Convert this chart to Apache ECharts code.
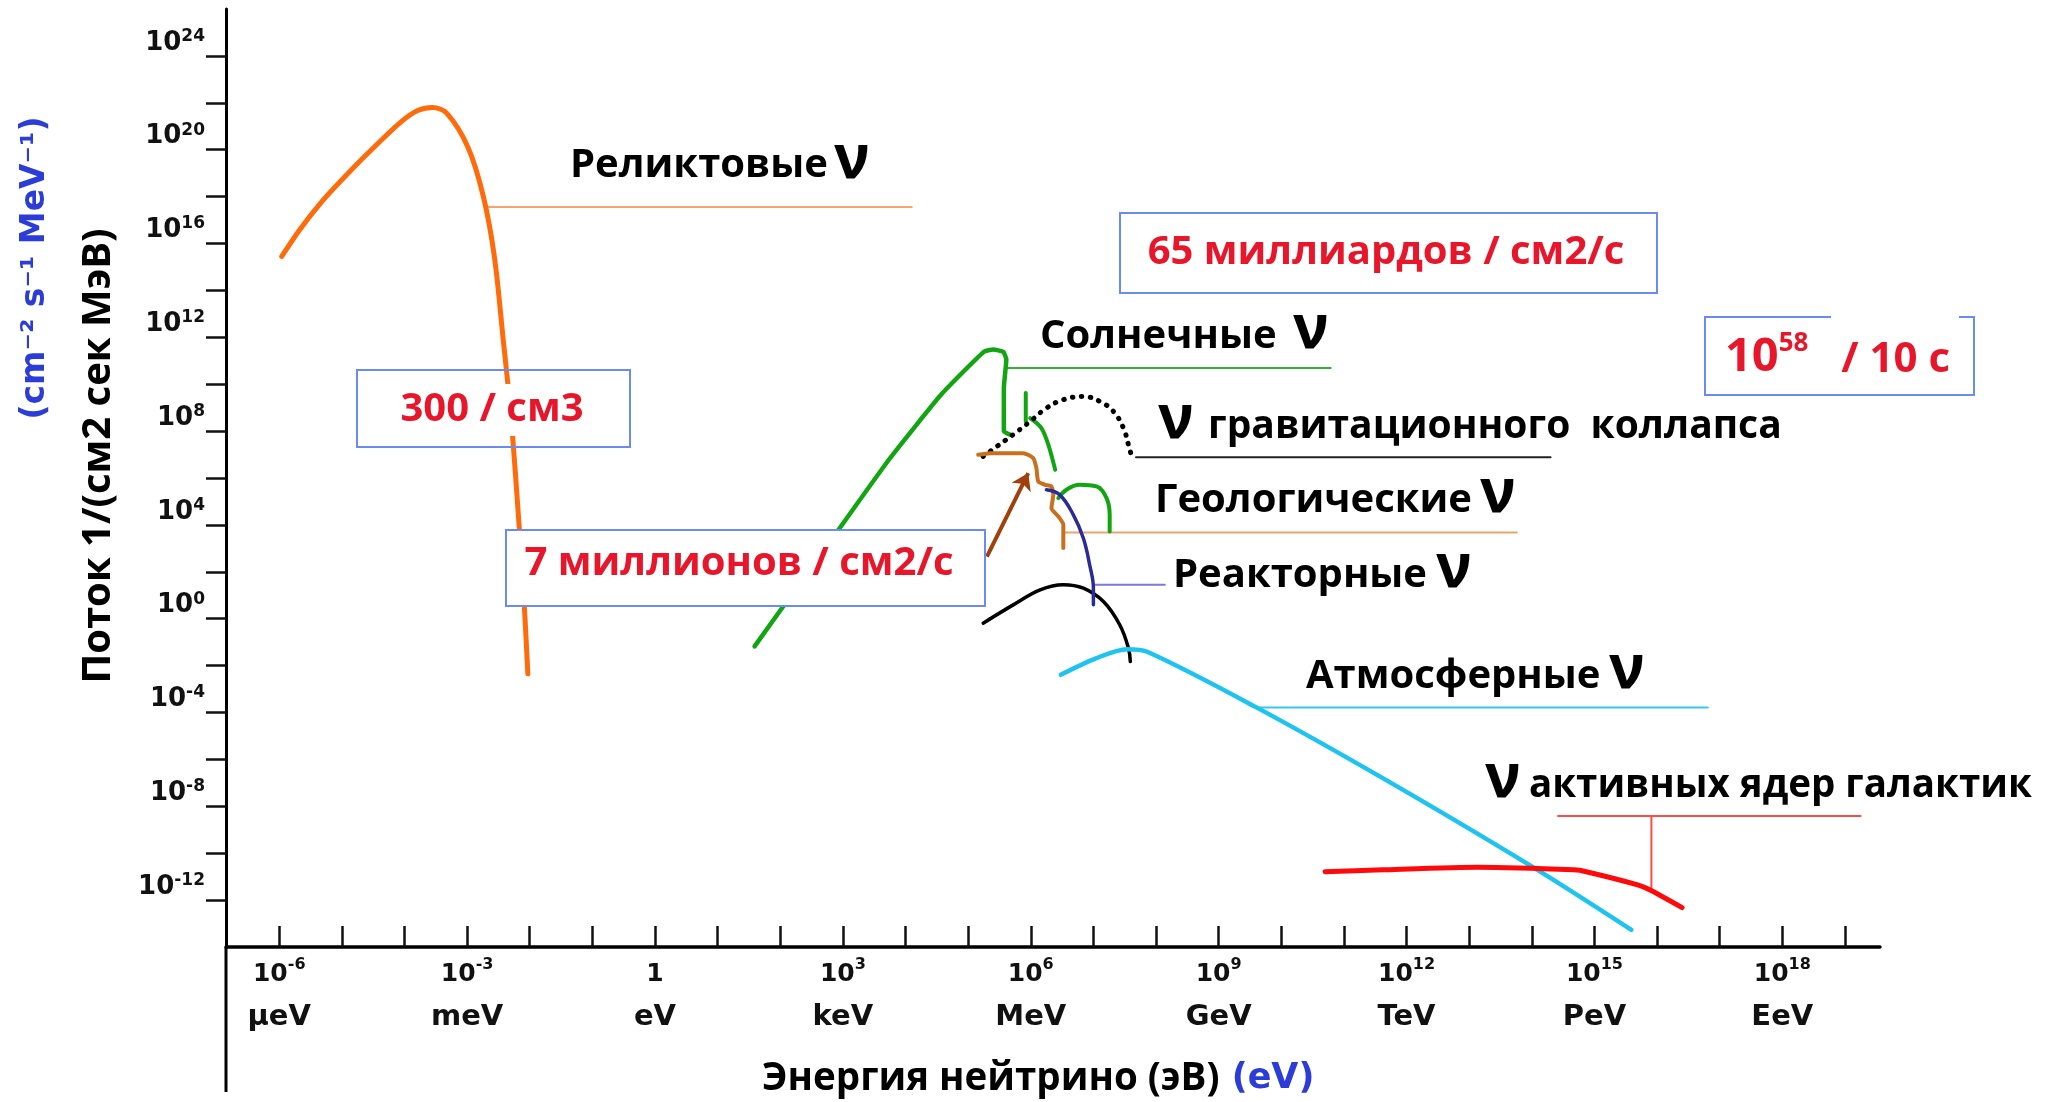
<!DOCTYPE html>
<html><head><meta charset="utf-8">
<script src="https://cdn.jsdelivr.net/npm/echarts@6/dist/echarts.min.js"></script>
<style>html,body{margin:0;padding:0;background:#fff}#c{width:2051px;height:1102px}</style>
</head><body><div id="c"></div>
<script>
// ---- axis ticks / labels (powers of ten) ----
const xTickExps = [-6,-5,-4,-3,-2,-1,0,1,2,3,4,5,6,7,8,9,10,11,12,13,14,15,16,17,18,19];
const xLabelExps = [-6,-3,0,3,6,9,12,15,18];
const xUnitNames = ['μeV','meV','eV','keV','MeV','GeV','TeV','PeV','EeV'];
const yTickExps = [-12,-10,-8,-6,-4,-2,0,2,4,6,8,10,12,14,16,18,20,22,24];
const yLabelExps = [-12,-8,-4,0,4,8,12,16,20,24];

// ---- curves: [log10(E/eV), log10(flux)] ----
const relicFlux = [[-5.96,15.45],[-5.67,16.6],[-5.30,17.85],[-4.90,19.0],[-4.45,20.2],[-4.05,21.2],[-3.78,21.68],[-3.55,21.8],[-3.33,21.57],[-2.99,20.13],[-2.74,18.00],[-2.56,15.35],[-2.42,11.80],[-2.35,10.03],[-2.27,7.65],[-2.19,4.73],[-2.10,1.19],[-2.03,-2.35]];
const solarMain = [[1.59,-1.18],[2.28,1.39],[2.91,3.72],[3.74,6.80],[4.58,9.59],[5.25,11.38],[5.40,11.48],[5.56,11.38],[5.61,11.05],[5.57,9.83],[5.57,7.99],[5.67,7.85]];
const solarSpike = [[5.92,9.62],[5.92,8.41]];
const solarDescent = [[5.99,8.55],[6.17,8.13],[6.28,7.42],[6.39,6.35]];
const solarBump = [[6.44,5.14],[6.57,5.50],[6.78,5.71],[7.05,5.64],[7.21,5.14],[7.26,4.43],[7.26,3.72]];
const collapseFlux = [[5.24,6.92],[5.46,7.35],[5.72,7.85],[5.99,8.41],[6.25,8.98],[6.52,9.34],[6.84,9.48],[7.10,9.27],[7.32,8.84],[7.48,8.13],[7.56,7.42],[7.61,6.92]];
const geoFlux = [[5.16,6.99],[5.35,7.06],[5.88,7.06],[6.04,6.85],[6.09,6.42],[6.12,5.85],[6.23,5.71],[6.33,5.64],[6.36,5.29],[6.33,4.71],[6.44,4.36],[6.52,4.01],[6.52,3.01]];
const arrowPath = [[5.30,2.65],[5.96,6.21]];
const reactorFlux = [[6.25,5.50],[6.46,5.29],[6.68,4.43],[6.84,3.43],[6.94,2.30],[7.00,1.30],[7.00,0.59]];
const blackBump = [[5.24,-0.19],[5.72,0.59],[6.15,1.23],[6.52,1.45],[6.84,1.30],[7.16,0.73],[7.42,-0.26],[7.56,-1.26],[7.59,-1.83]];
const atmosFlux = [[6.48,-2.39],[7.04,-1.69],[7.54,-1.30],[7.85,-1.40],[9.58,-3.75],[11.62,-6.80],[13.96,-10.50],[15.59,-13.27]];
const agnFlux = [[10.70,-10.79],[11.62,-10.71],[13.14,-10.60],[14.67,-10.71],[14.87,-10.79],[15.69,-11.35],[15.89,-11.57],[16.40,-12.32]];

// ---- label leader lines ----
const relicLeader = [[-2.70,17.56],[4.10,17.56]];
const solarLeader = [[5.62,10.69],[10.79,10.69]];
const collapseLeader = [[7.68,6.89],[14.30,6.89]];
const geoLeader = [[6.54,3.68],[13.76,3.68]];
const reactorLeader = [[7.03,1.45],[8.14,1.45]];
const atmosLeader = [[9.63,-3.79],[16.81,-3.79]];
const agnLeader = [[14.42,-8.41],[19.25,-8.41]];
const agnLeaderDrop = [[15.91,-8.41],[15.91,-11.50]];

const RED = '#e8162a', BOXC = '#6a8bf0', BLUE = '#2b3cd8';
const SANS = "'Open Sans', 'Noto Sans', sans-serif";
const AXF = "'DejaVu Sans', sans-serif";

function curve(data, color, width, extra) {
  return Object.assign({
    type: 'line', data: data, showSymbol: false, symbol: 'none', silent: true,
    animation: false, lineStyle: { color: color, width: width, cap: 'round', join: 'round' }
  }, extra || {});
}
function leader(data, color) { return curve(data, color, 2, { z: 1 }); }

const chart = echarts.init(document.getElementById('c'), null, { renderer: 'canvas' });

function T(x, y, text, o) {
  return { type: 'text', x: x, y: y, z: 100, silent: true,
    style: Object.assign({ text: text, fill: '#000', fontFamily: SANS, fontWeight: 'bold',
      fontSize: 40, align: 'left', verticalAlign: 'middle' }, o || {}) };
}
function NU(x, baseline) { return T(x, baseline - 17, 'ν', { fontSize: 60 }); }
function BOX(x, y, w, h, fill) {
  return { type: 'rect', z: 98, silent: true, shape: { x: x, y: y, width: w, height: h },
    style: { fill: fill ? '#fff' : null, stroke: BOXC, lineWidth: 2 } };
}

const option = {
  backgroundColor: '#fff',
  animation: false,
  grid: { left: 226, right: 171, top: 9, bottom: 155, containLabel: false, outerBoundsMode: 'none' },
  xAxis: {
    type: 'value', min: -6.85, max: 19.56,
    splitLine: { show: false },
    axisLine: { onZero: false, lineStyle: { color: '#000', width: 3.5 } },
    axisTick: { inside: true, length: 21, customValues: xTickExps, lineStyle: { color: '#111', width: 2.5 } },
    axisLabel: {
      customValues: xLabelExps, margin: 10,
      formatter: function (v) {
        const e = Math.round(v);
        const i = xLabelExps.indexOf(e);
        const top = e === 0 ? '{n|1}' : '{n|10}{s|' + e + '}';
        return top + '\n{u|' + (i >= 0 ? xUnitNames[i] : '') + '}';
      },
      rich: {
        n: { fontFamily: AXF, fontWeight: 'bold', fontSize: 25, color: '#111', lineHeight: 30, verticalAlign: 'bottom' },
        s: { fontFamily: AXF, fontWeight: 'bold', fontSize: 16, color: '#111', lineHeight: 18, verticalAlign: 'top' },
        u: { fontFamily: AXF, fontWeight: 'bold', fontSize: 29, color: '#111', lineHeight: 60 }
      }
    }
  },
  yAxis: {
    type: 'value', min: -14, max: 26,
    splitLine: { show: false },
    axisLine: { onZero: false, lineStyle: { color: '#000', width: 3 } },
    axisTick: { inside: false, length: 20, customValues: yTickExps, lineStyle: { color: '#111', width: 2.5 } },
    axisLabel: {
      customValues: yLabelExps, margin: 21, verticalAlign: 'bottom',
      formatter: function (v) { return '{n|10}{s|' + Math.round(v) + '}'; },
      rich: {
        n: { fontFamily: AXF, fontWeight: 'bold', fontSize: 26, color: '#111', lineHeight: 28, verticalAlign: 'bottom' },
        s: { fontFamily: AXF, fontWeight: 'bold', fontSize: 17, color: '#111', lineHeight: 18, verticalAlign: 'top' }
      }
    }
  },
  series: [
    leader(relicLeader, '#f6a56e'),
    leader(solarLeader, '#35b035'),
    leader(collapseLeader, '#222'),
    leader(geoLeader, '#e6a672'),
    leader(reactorLeader, '#7a7ad8'),
    leader(atmosLeader, '#38c6f2'),
    leader(agnLeader, '#ff4a4a'),
    leader(agnLeaderDrop, '#ff4a4a'),
    curve(relicFlux, '#ff6a0a', 5, { smooth: 0.3 }),
    curve(solarMain, '#12a512', 4.5, { smooth: 0.15 }),
    curve(solarSpike, '#12a512', 4),
    curve(solarDescent, '#12a512', 4, { smooth: 0.3 }),
    curve(solarBump, '#12a512', 4, { smooth: 0.4 }),
    curve(collapseFlux, '#000', 5, { smooth: 0.4, lineStyle: { color: '#000', width: 5, type: [0.5, 8.5], cap: 'round' } }),
    curve(geoFlux, '#c8701e', 4, { smooth: 0.2 }),
    curve(blackBump, '#000', 3.5, { smooth: 0.4 }),
    curve(reactorFlux, '#2b2b96', 3.5, { smooth: 0.4 }),
    curve(atmosFlux, '#1ec3f0', 4.5, { smooth: 0.3 }),
    curve(agnFlux, '#ff0a0a', 5, { smooth: 0.2 }),
    {
      type: 'lines', coordinateSystem: 'cartesian2d', silent: true, animation: false, z: 3,
      symbol: ['none', 'arrow'], symbolSize: 16,
      lineStyle: { color: '#a0400c', width: 4, opacity: 1 },
      data: [{ coords: arrowPath }]
    }
  ],
  graphic: [
    // y-axis line continues below the x-axis
    { type: 'line', z: 50, silent: true, shape: { x1: 226, y1: 947, x2: 226, y2: 1092 }, style: { stroke: '#000', lineWidth: 3 } },
    // axis titles
    Object.assign(T(99, 456, 'Поток 1/(см2 сек МэВ)', { align: 'center', fontSize: 40 }), { rotation: Math.PI / 2 }),
    Object.assign(T(35, 268, '(cm⁻² s⁻¹ MeV⁻¹)', { align: 'center', fontFamily: AXF, fontWeight: 'bold', fontSize: 33, fill: BLUE }), { rotation: Math.PI / 2 }),
    T(762, 1079, '{a|Энергия нейтрино (эВ)}{b| (eV)}', {
      rich: {
        a: { fontFamily: SANS, fontWeight: 'bold', fontSize: 38.5, fill: '#000' },
        b: { fontFamily: AXF, fontWeight: 'bold', fontSize: 35, fill: BLUE }
      }
    }),
    // boxes
    BOX(357, 370, 273, 77, false),
    BOX(506, 530, 479, 76, true),
    BOX(1120, 213, 537, 80, true),
    BOX(1705, 317, 269, 78, true),
    { type: 'rect', z: 99, silent: true, shape: { x: 1831, y: 314, width: 128, height: 6 }, style: { fill: '#fff' } },
    // box texts
    T(492, 410, '300 / см3', { fill: RED, align: 'center', backgroundColor: '#fff', padding: [6, 12] }),
    T(739, 564, '7 миллионов / см2/с', { fill: RED, align: 'center' }),
    T(1386, 253, '65 миллиардов / см2/с', { fill: RED, align: 'center' }),
    T(1725, 356, '{a|10}{s|58}{b|   / 10 с}', {
      rich: {
        a: { fontFamily: SANS, fontWeight: 'bold', fontSize: 47, fill: RED, lineHeight: 50, verticalAlign: 'bottom' },
        s: { fontFamily: SANS, fontWeight: 'bold', fontSize: 26, fill: RED, lineHeight: 28, verticalAlign: 'top' },
        b: { fontFamily: SANS, fontWeight: 'bold', fontSize: 42, fill: RED, lineHeight: 50, verticalAlign: 'bottom' }
      }
    }),
    // series labels
    T(570, 166, 'Реликтовые'), NU(834, 178),
    T(1040, 337, 'Солнечные'), NU(1293, 348),
    NU(1158, 438), T(1208, 427, 'гравитационного  коллапса', { fontSize: 39 }),
    T(1155, 501, 'Геологические'), NU(1480, 512),
    T(1173, 576, 'Реакторные'), NU(1436, 587),
    T(1306, 677, 'Атмосферные'), NU(1609, 688),
    NU(1485, 797), T(1529, 786, 'активных ядер галактик', { fontSize: 38.5 })
  ]
};
chart.setOption(option);
</script></body></html>
